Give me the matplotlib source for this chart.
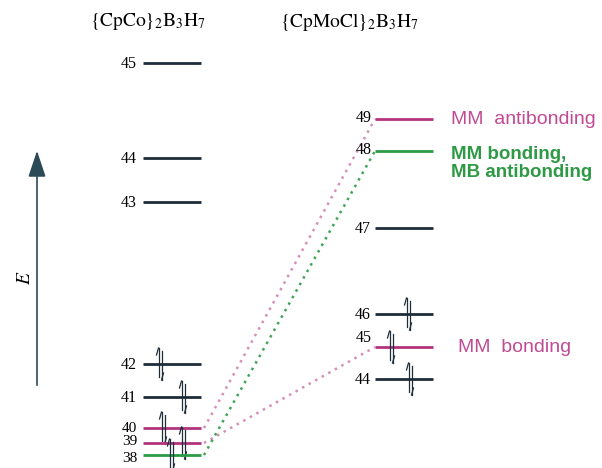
import matplotlib
matplotlib.use('Agg')
import matplotlib.pyplot as plt

plt.rcParams['mathtext.fontset'] = 'stix'

# orbital energies (arbitrary units)
left_mo = [45, 44, 43, 42, 41, 40, 39, 38]
left_e = [405, 310, 266, 104, 71, 40, 25, 13]
left_col = ['dark', 'dark', 'dark', 'dark', 'dark', 'pink', 'pink', 'green']

right_mo = [49, 48, 47, 46, 45, 44]
right_e = [349, 317, 240, 154, 121, 89]
right_col = ['pink', 'green', 'dark', 'dark', 'pink', 'dark']

# occupied levels -> x offset of the electron pair inside the level line
left_occ = {42: 17, 41: 40, 40: 20, 39: 40, 38: 28}
right_occ = {46: 33, 45: 16, 44: 35}

# correlation lines (left MO, right MO, colour)
links = [(40, 49, 'pink'), (39, 45, 'pink'), (38, 48, 'green')]

# character labels for right side
right_notes = {49: ('MM  antibonding', 'pink'),
               48: ('MM bonding,\nMB antibonding', 'green'),
               45: ('MM  bonding', 'pink')}

colors = {'dark': '#1e2d3a', 'pink': '#b3337f', 'green': '#2b9a45'}
text_colors = {'pink': '#c04b94', 'green': '#2f9a45'}

fig = plt.figure(figsize=(6.02, 4.68), dpi=100)
ax = fig.add_axes([0, 0, 1, 1])
ax.set_xlim(0, 602)
ax.set_ylim(0, 468)
ax.axis('off')

xl0, xl1 = 143, 201
xr0, xr1 = 375, 433

# small nudges so the tightly packed numbers do not collide
label_nudge = {40: 0, 39: 2.5, 38: -2.5}


def electron_pair(x, y):
    h = 16
    # up spin (left), down spin (right), half-arrow heads
    ax.plot([x - 1.5, x - 1.5], [y - h + 3, y + h], color='#1e2d3a', lw=0.9)
    ax.plot([x - 1.5, x - 3.5], [y + h, y + h - 7], color='#1e2d3a', lw=0.9)
    ax.plot([x + 1.5, x + 1.5], [y + h - 3, y - h], color='#1e2d3a', lw=0.9)
    ax.plot([x + 1.5, x + 3.5], [y - h, y - h + 7], color='#1e2d3a', lw=0.9)


lpos = dict(zip(left_mo, left_e))
rpos = dict(zip(right_mo, right_e))

for mo, e, c in zip(left_mo, left_e, left_col):
    ax.plot([xl0, xl1], [e, e], color=colors[c], lw=2, solid_capstyle='butt')
    ax.text(xl0 - 6, e - 1 + label_nudge.get(mo, 0), str(mo), ha='right', va='center',
            fontsize=11 if mo in label_nudge else 11.5, family='Liberation Serif')
    if mo in left_occ:
        electron_pair(xl0 + left_occ[mo], e)

for mo, e, c in zip(right_mo, right_e, right_col):
    ax.plot([xr0, xr1], [e, e], color=colors[c], lw=2, solid_capstyle='butt')
    if c == 'dark':
        ax.text(xr0 - 4, e - 1, str(mo), ha='right', va='center',
                fontsize=11.5, family='Liberation Serif')
    else:
        ax.text(xr0 - 3, e + 1, str(mo), ha='right', va='bottom' if mo == 45 else 'center',
                fontsize=11.5, family='Liberation Serif')
    if mo in right_occ:
        electron_pair(xr0 + right_occ[mo], e)
    if mo in right_notes:
        txt, tc = right_notes[mo]
        multi = '\n' in txt
        ax.text(xr1 + 18 + (7 if mo == 45 else 0), e + (5 if multi else 0), txt,
                ha='left', va='top' if multi else 'center',
                fontsize=13.5 if multi else 14, family='Liberation Sans',
                color=text_colors[tc],
                fontweight='bold' if tc == 'green' else 'normal', linespacing=1.05)

for a, b, c in links:
    ax.plot([xl1 + 3, xr0], [lpos[a], rpos[b]], color=colors[c], lw=1.8,
            ls=(0, (1, 2)), alpha=0.55 if c == 'pink' else 0.9)

# energy arrow
ax.annotate('', xy=(37, 320), xytext=(37, 80),
            arrowprops=dict(arrowstyle='-|>,head_length=0.9,head_width=0.3',
                            color='#2c4a55', lw=1.2, mutation_scale=18))
ax.text(25, 190, '$E$', rotation=90, ha='center', va='center', fontsize=14)

ax.text(148, 446, r'$\{\mathrm{CpCo}\}_2\mathrm{B}_3\mathrm{H}_7$', ha='center',
        va='center', fontsize=14)
ax.text(349, 446, r'$\{\mathrm{CpMoCl}\}_2\mathrm{B}_3\mathrm{H}_7$', ha='center',
        va='center', fontsize=14)

fig.savefig('out.png', dpi=100)
